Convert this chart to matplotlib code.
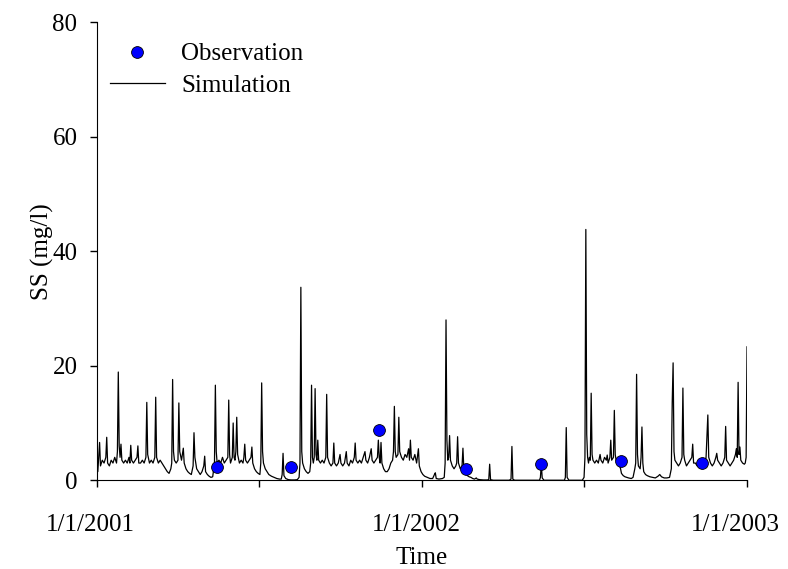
import matplotlib
matplotlib.use("Agg")
import matplotlib.pyplot as plt
import matplotlib.transforms as mtransforms
import pandas as pd

plt.rcParams['font.family'] = ['Liberation Serif', 'DejaVu Serif']

start = pd.Timestamp('2001-01-01')

# simulated SS, vertices (days since 1/1/2001, mg/l)
sim_days = [0, 1, 3, 4, 6, 8, 10, 11, 12, 14, 16, 18, 20, 22, 23, 24, 25, 26, 27, 28,
            30, 32, 34, 36, 37, 38, 39, 41, 43, 45, 46, 47, 49, 51, 53, 55, 56, 57, 59, 61,
            63, 65, 66, 67, 69, 71, 73, 75, 77, 79, 81, 83, 84, 85, 86, 87, 89, 91, 92, 93,
            95, 97, 98, 100, 102, 104, 106, 108, 109, 110, 112, 114, 116, 118, 120, 121, 122, 124, 126, 128,
            130, 132, 133, 134, 135, 137, 139, 141, 143, 145, 147, 148, 149, 150, 152, 153, 154, 155, 156, 157,
            158, 160, 162, 164, 165, 166, 167, 169, 171, 173, 174, 175, 177, 179, 181, 183, 184, 185, 186, 187,
            189, 191, 193, 196, 199, 202, 205, 207, 208, 209, 210, 212, 215, 218, 222, 225, 227, 228, 229, 230,
            231, 233, 235, 237, 239, 240, 241, 242, 243, 244, 245, 246, 247, 248, 249, 251, 253, 255, 257, 258,
            259, 261, 263, 265, 266, 267, 269, 271, 273, 274, 276, 278, 280, 281, 283, 285, 287, 289, 290, 291,
            293, 295, 297, 299, 301, 302, 304, 306, 308, 309, 311, 313, 315, 316, 317, 318, 319, 320, 322, 324,
            326, 328, 330, 332, 333, 334, 335, 336, 338, 339, 340, 342, 344, 346, 348, 350, 351, 352, 353, 355,
            357, 359, 361, 362, 364, 366, 368, 371, 374, 377, 379, 380, 381, 384, 388, 390, 391, 392, 393, 394,
            395, 396, 397, 399, 401, 403, 404, 405, 406, 408, 410, 411, 412, 414, 416, 418, 420, 422, 424, 426,
            427, 430, 434, 438, 440, 441, 442, 445, 455, 463, 465, 466, 467, 469, 480, 490, 497, 498, 499, 500,
            502, 510, 520, 525, 526, 527, 528, 530, 540, 545, 547, 548, 549, 550, 551, 552, 553, 554, 555, 556,
            557, 559, 561, 563, 565, 566, 568, 570, 572, 573, 574, 576, 577, 578, 580, 581, 582, 583, 585, 587,
            588, 589, 591, 593, 595, 597, 600, 602, 604, 605, 606, 607, 608, 610, 611, 612, 613, 614, 616, 618,
            621, 624, 627, 630, 632, 634, 637, 640, 643, 645, 646, 647, 648, 649, 651, 653, 655, 657, 658, 659,
            660, 662, 664, 666, 668, 669, 670, 672, 674, 676, 678, 680, 682, 684, 686, 687, 689, 691, 693, 695,
            696, 697, 699, 701, 703, 705, 706, 707, 709, 711, 713, 715, 717, 718, 719, 720, 721, 722, 723, 725,
            727, 728, 729, 730]
sim_vals = [6.3, 1.5, 6.6, 2.5, 3.5, 3, 4, 7.5, 3, 2.5, 3.5, 3, 4, 3, 5, 18.9, 6, 4, 6.3, 3.5,
            3, 3.5, 3, 4, 3, 6.1, 3.5, 3, 3.5, 4, 6, 3, 3, 3.5, 3, 4, 13.6, 4.5, 3, 3.5,
            3, 4, 14.5, 4, 3, 3.5, 3, 2.5, 2, 1.5, 1.2, 2, 3, 17.6, 5, 3.5, 3, 3.5, 13.5, 5,
            3.5, 5.6, 3, 2, 1.5, 1.2, 1, 2.5, 8.3, 4, 2, 1.5, 1, 1.5, 2.5, 4.2, 1.5, 1, 0.7, 0.5,
            0.6, 3, 16.6, 5, 3, 3.5, 3, 4, 3, 3.5, 4, 14, 4.5, 3, 4, 10, 4, 3.5, 5, 11,
            4.5, 3, 3.5, 3, 4, 6.3, 3.5, 3, 3.5, 4, 5.8, 3, 2, 1.5, 1.2, 1, 3, 17, 5, 3,
            2, 1.5, 1, 0.7, 0.5, 0.3, 0.2, 0.2, 1, 4.7, 0.8, 0.3, 0.1, 0.05, 0.05, 0.1, 0.5, 3, 33.7, 5,
            3, 2, 1.5, 1.2, 1.5, 3, 16.6, 4, 3, 4, 16, 4.5, 3.5, 7, 3.5, 3, 3.5, 3, 4, 15,
            4, 3, 2.5, 3, 6.5, 3, 2.5, 3, 4.5, 3, 2.5, 3, 5, 3, 2.5, 3.5, 3, 4, 6.5, 3.5,
            3, 3.5, 3, 4, 5, 3.5, 3, 4, 5.5, 3.5, 3, 3.5, 4, 7, 4, 3, 6.6, 3, 2, 1.5,
            1.5, 2, 3, 3.5, 5, 12.9, 5, 4, 4.5, 11, 5, 4, 3.5, 4.5, 4, 5.5, 3.5, 7, 4, 3.5,
            4.5, 3, 5.5, 2.5, 1.5, 1, 0.7, 0.5, 0.3, 0.3, 1, 1.3, 0.3, 0.2, 0.3, 0.5, 3, 28, 7, 3.5,
            4, 7.8, 3.5, 2.5, 2, 2.5, 3, 7.6, 3, 2, 2.5, 5.6, 2, 1.2, 0.8, 0.6, 0.5, 0.3, 0.2, 0.4,
            0.2, 0.1, 0.05, 0.05, 0.1, 2.8, 0.1, 0, 0, 0, 0.2, 5.9, 0.2, 0, 0, 0, 0, 0.5, 2.9, 0.4,
            0, 0, 0, 0, 0.5, 9.2, 0.5, 0, 0, 0, 0.5, 4, 43.8, 8, 4, 3, 4, 3.5, 15.2, 4.5,
            3.5, 3, 3.5, 3, 4.5, 3.5, 3, 4, 3.5, 4.4, 3, 4, 7, 3.5, 4, 12.2, 4.5, 3.5, 3, 2.5,
            2, 1.2, 0.8, 0.6, 0.5, 0.4, 0.3, 0.5, 2, 3, 18.5, 4.5, 2.5, 2, 4, 9.3, 3, 1.5, 1, 0.8,
            0.6, 0.5, 0.4, 0.7, 1, 0.6, 0.4, 0.4, 0.5, 2, 13.6, 20.5, 5, 3.5, 3, 2.5, 3, 4, 16.1, 4.5,
            3.5, 2.5, 3, 3.5, 4, 6.3, 3, 3, 2.5, 3, 2.5, 2, 2.5, 4, 11.4, 4, 3, 2.5, 3, 4,
            4.7, 3.5, 3, 2.5, 3, 4, 9.4, 3.5, 3, 2.5, 3, 3.5, 4.5, 5.5, 4, 17.1, 4.5, 5.8, 3.5, 3,
            2.8, 3, 4, 23.3]

# observed SS
obs_days = [135, 218, 317, 414, 499, 588, 679]
obs_vals = [2.3, 2.3, 8.8, 1.9, 2.9, 3.3, 3.0]

sim_dates = start + pd.to_timedelta(sim_days, unit='D')
obs_dates = start + pd.to_timedelta(obs_days, unit='D')

fig = plt.figure(figsize=(7.88, 5.69), dpi=100)
ax = fig.add_axes([0.123, 0.156, 0.825, 0.805])

ax.plot(sim_dates, sim_vals, color='black', linewidth=0.9, label='Simulation', zorder=2)
ax.plot(obs_dates, obs_vals, linestyle='none', marker='o', markersize=8.5,
        markerfacecolor='#0000ff', markeredgecolor='black', markeredgewidth=0.6,
        label='Observation', zorder=3)

ax.set_xlim(pd.Timestamp('2001-01-01'), pd.Timestamp('2003-01-01'))
ax.set_ylim(0, 80)
ax.set_yticks([0, 20, 40, 60, 80])

xticks = pd.to_datetime(['2001-01-01', '2001-07-02', '2002-01-01', '2002-07-02', '2003-01-01'])
ax.set_xticks(xticks)
ax.set_xticklabels(['1/1/2001', '', '1/1/2002', '', '1/1/2003'])

ax.spines['top'].set_visible(False)
ax.spines['right'].set_visible(False)
ax.tick_params(direction='out', length=5, width=1, labelsize=18)
ax.tick_params(axis='y', pad=9)
ax.tick_params(axis='x', pad=19)

# date labels sit a little left of their ticks in the original
for lab, dx in zip(ax.get_xticklabels(), [-7, 0, -6, 0, -12]):
    lab.set_transform(lab.get_transform() + mtransforms.ScaledTranslation(dx / 100, 0, fig.dpi_scale_trans))

ax.set_xlabel('Time', fontsize=18, labelpad=8)
ax.set_ylabel('SS (mg/l)', fontsize=18, labelpad=-1)

handles, labels = ax.get_legend_handles_labels()
ax.legend(handles[::-1], labels[::-1], loc='upper left', bbox_to_anchor=(0.02, 0.955),
          frameon=False, fontsize=18, handlelength=2.2, handletextpad=0.65,
          labelspacing=0.35, borderpad=0, borderaxespad=0)

fig.savefig('out.png', dpi=100)
